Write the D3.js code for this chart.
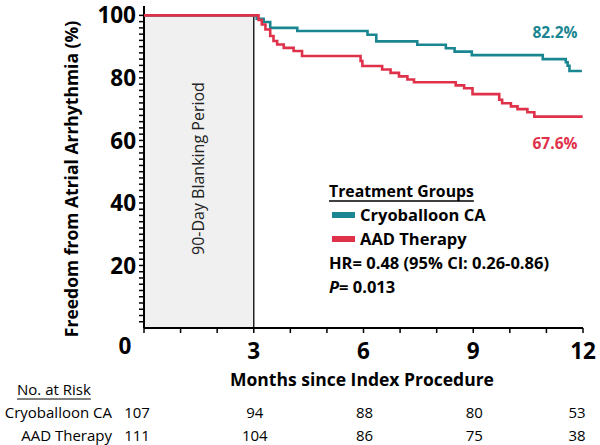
<!DOCTYPE html>
<html><head><meta charset="utf-8">
<script src="https://cdn.jsdelivr.net/npm/d3@7"></script>
<style>
body{margin:0;background:#fff;}
text{font-family:"Open Sans",sans-serif;}
</style></head>
<body><svg id="c" width="600" height="445"></svg>
<script>
// ---- data ----
const cryoTimes = [0, 3.08, 3.27, 3.45, 4.19, 6.11, 6.35, 7.47, 8.25, 8.49, 8.96, 10.9, 11.53, 11.58, 11.63, 11.97];
const cryoSurv  = [100, 98.9, 97.9, 96.0, 95.0, 93.8, 91.7, 90.6, 89.5, 88.4, 87.3, 86.0, 85.0, 83.9, 82.2, 82.2];
const aadTimes = [0, 3.13, 3.22, 3.32, 3.45, 3.54, 3.64, 3.82, 4.09, 4.32, 5.92, 5.97, 6.51, 6.74, 6.97, 7.2, 7.38, 8.52, 8.75, 8.98, 9.71, 9.79, 10.03, 10.21, 10.48, 10.67, 11.99];
const aadSurv  = [100, 98.5, 97.1, 95.5, 93.4, 91.8, 90.7, 89.6, 88.6, 87.0, 85.4, 83.8, 82.7, 81.6, 80.5, 79.5, 78.6, 77.6, 76.7, 74.8, 73.0, 71.9, 70.9, 70.0, 69.0, 67.6, 67.6];
const xTicks = [0, 3, 6, 9, 12];
const yTicks = [20, 40, 60, 80, 100];
const riskMonths = [0, 3, 6, 9, 12];
const riskCryo = [107, 94, 88, 80, 53];
const riskAAD = [111, 104, 86, 75, 38];
const seriesNames = ["Cryoballoon CA", "AAD Therapy"];
const endLabels = ["82.2%", "67.6%"];
const blankingEnd = 3;

const TEAL = "#1a8691", RED = "#e0314b";
const svg = d3.select("#c");
const x = d3.scaleLinear().domain([0, 12]).range([144, 583]);
const y = d3.scaleLinear().domain([0, 103]).range([328, 6]);

// blanking box
svg.append("rect").attr("x", x(0)).attr("y", y(100)).attr("width", x(blankingEnd) - x(0)).attr("height", y(0) - y(100))
  .attr("fill", "#f0f0f0").attr("stroke", "none");
svg.append("line").attr("x1", x(blankingEnd)).attr("x2", x(blankingEnd)).attr("y1", y(0)).attr("y2", y(100))
  .attr("stroke", "#222").attr("stroke-width", 1.5);
svg.append("text").attr("transform", `translate(${(x(0) + x(blankingEnd)) / 2 + 5},${y(51)}) rotate(-90)`)
  .attr("text-anchor", "middle").attr("font-size", 16).attr("fill", "#222").text("90-Day Blanking Period");

// axes
const yAxisG = svg.append("g").attr("transform", `translate(${x(0)},0)`);
yAxisG.append("line").attr("x1", 0).attr("x2", 0).attr("y1", y(0)).attr("y2", y(103)).attr("stroke", "#000").attr("stroke-width", 2);
const minorY = d3.range(2, 101, 2);
yAxisG.selectAll("line.m").data(minorY).join("line").attr("class", "m")
  .attr("x1", -5).attr("x2", 0).attr("y1", d => y(d)).attr("y2", d => y(d)).attr("stroke", "#000").attr("stroke-width", 1.5);
yAxisG.selectAll("text").data(yTicks).join("text")
  .attr("x", -8).attr("y", d => y(d)).attr("dy", "0.36em").attr("text-anchor", "end")
  .attr("font-size", 22.5).attr("font-weight", 700).text(d => d);

const xAxisG = svg.append("g").attr("transform", `translate(0,${y(0)})`);
xAxisG.append("line").attr("x1", x(0)).attr("x2", x(12)).attr("y1", 0).attr("y2", 0).attr("stroke", "#000").attr("stroke-width", 2);
xAxisG.selectAll("line.t").data(d3.range(0, 13)).join("line").attr("class", "t")
  .attr("x1", d => x(d)).attr("x2", d => x(d)).attr("y1", 0).attr("y2", 5).attr("stroke", "#000").attr("stroke-width", 1.5);
xAxisG.selectAll("text").data(xTicks).join("text")
  .attr("x", d => d === 0 ? x(0) - 19 : x(d)).attr("y", d => d === 0 ? 26 : 31).attr("text-anchor", "middle")
  .attr("font-size", 22.5).attr("font-weight", 700).text(d => d);

// titles
svg.append("text").attr("transform", `translate(78,179) rotate(-90)`).attr("text-anchor", "middle")
  .attr("font-size", 17.5).attr("font-weight", 700).text("Freedom from Atrial Arrhythmia (%)");
svg.append("text").attr("x", 362).attr("y", 386).attr("text-anchor", "middle")
  .attr("font-size", 17.5).attr("font-weight", 700).text("Months since Index Procedure");

// curves
const line = d3.line().x(d => x(d[0])).y(d => y(d[1])).curve(d3.curveStepAfter);
const cryoData = cryoTimes.map((t, i) => [t, cryoSurv[i]]);
const aadData = aadTimes.map((t, i) => [t, aadSurv[i]]);
svg.append("path").attr("d", line(cryoData)).attr("fill", "none").attr("stroke", TEAL).attr("stroke-width", 2.6);
svg.append("path").attr("d", line(aadData)).attr("fill", "none").attr("stroke", RED).attr("stroke-width", 2.6);

svg.append("text").attr("x", 555).attr("y", 38).attr("text-anchor", "middle").attr("font-size", 15.5).attr("font-weight", 700)
  .attr("fill", TEAL).text(endLabels[0]);
svg.append("text").attr("x", 555).attr("y", 149).attr("text-anchor", "middle").attr("font-size", 15.5).attr("font-weight", 700)
  .attr("fill", RED).text(endLabels[1]);

// legend
const lg = svg.append("g");
const tg = lg.append("text").attr("x", 329).attr("y", 197).attr("font-size", 15.8).attr("font-weight", 700).text("Treatment Groups");
const tw = tg.node().getComputedTextLength();
lg.append("line").attr("x1", 329).attr("x2", 329 + tw).attr("y1", 201).attr("y2", 201).attr("stroke", "#000").attr("stroke-width", 1.3);
[TEAL, RED].forEach((c, i) => {
  lg.append("rect").attr("x", 332).attr("y", 212 + i * 24).attr("width", 23).attr("height", 6).attr("fill", c);
  lg.append("text").attr("x", 360).attr("y", 221 + i * 24).attr("font-size", 16.5).attr("font-weight", 700).text(seriesNames[i]);
});
lg.append("text").attr("x", 329).attr("y", 269).attr("font-size", 16.5).attr("font-weight", 700).text("HR= 0.48 (95% CI: 0.26-0.86)");
const pt = lg.append("text").attr("x", 329).attr("y", 293).attr("font-size", 16.5).attr("font-weight", 700);
pt.append("tspan").attr("font-style", "italic").text("P");
pt.append("tspan").text("= 0.013");

// risk table
const nr = svg.append("text").attr("x", 17).attr("y", 395).attr("font-size", 15).text("No. at Risk");
const nw = nr.node().getComputedTextLength();
svg.append("line").attr("x1", 17).attr("x2", 17 + nw).attr("y1", 399).attr("y2", 399).attr("stroke", "#000").attr("stroke-width", 1);
[riskCryo, riskAAD].forEach((row, i) => {
  const yy = 418 + i * 23;
  svg.append("text").attr("x", 112).attr("y", yy).attr("text-anchor", "end").attr("font-size", 15).text(seriesNames[i]);
  svg.selectAll(null).data(row).join("text")
    .attr("x", (d, j) => j === 0 ? 137 : x(riskMonths[j]) - (j === 4 ? 6 : -1)).attr("y", yy).attr("text-anchor", "middle")
    .attr("font-size", 15).text(d => d);
});
</script></body></html>
